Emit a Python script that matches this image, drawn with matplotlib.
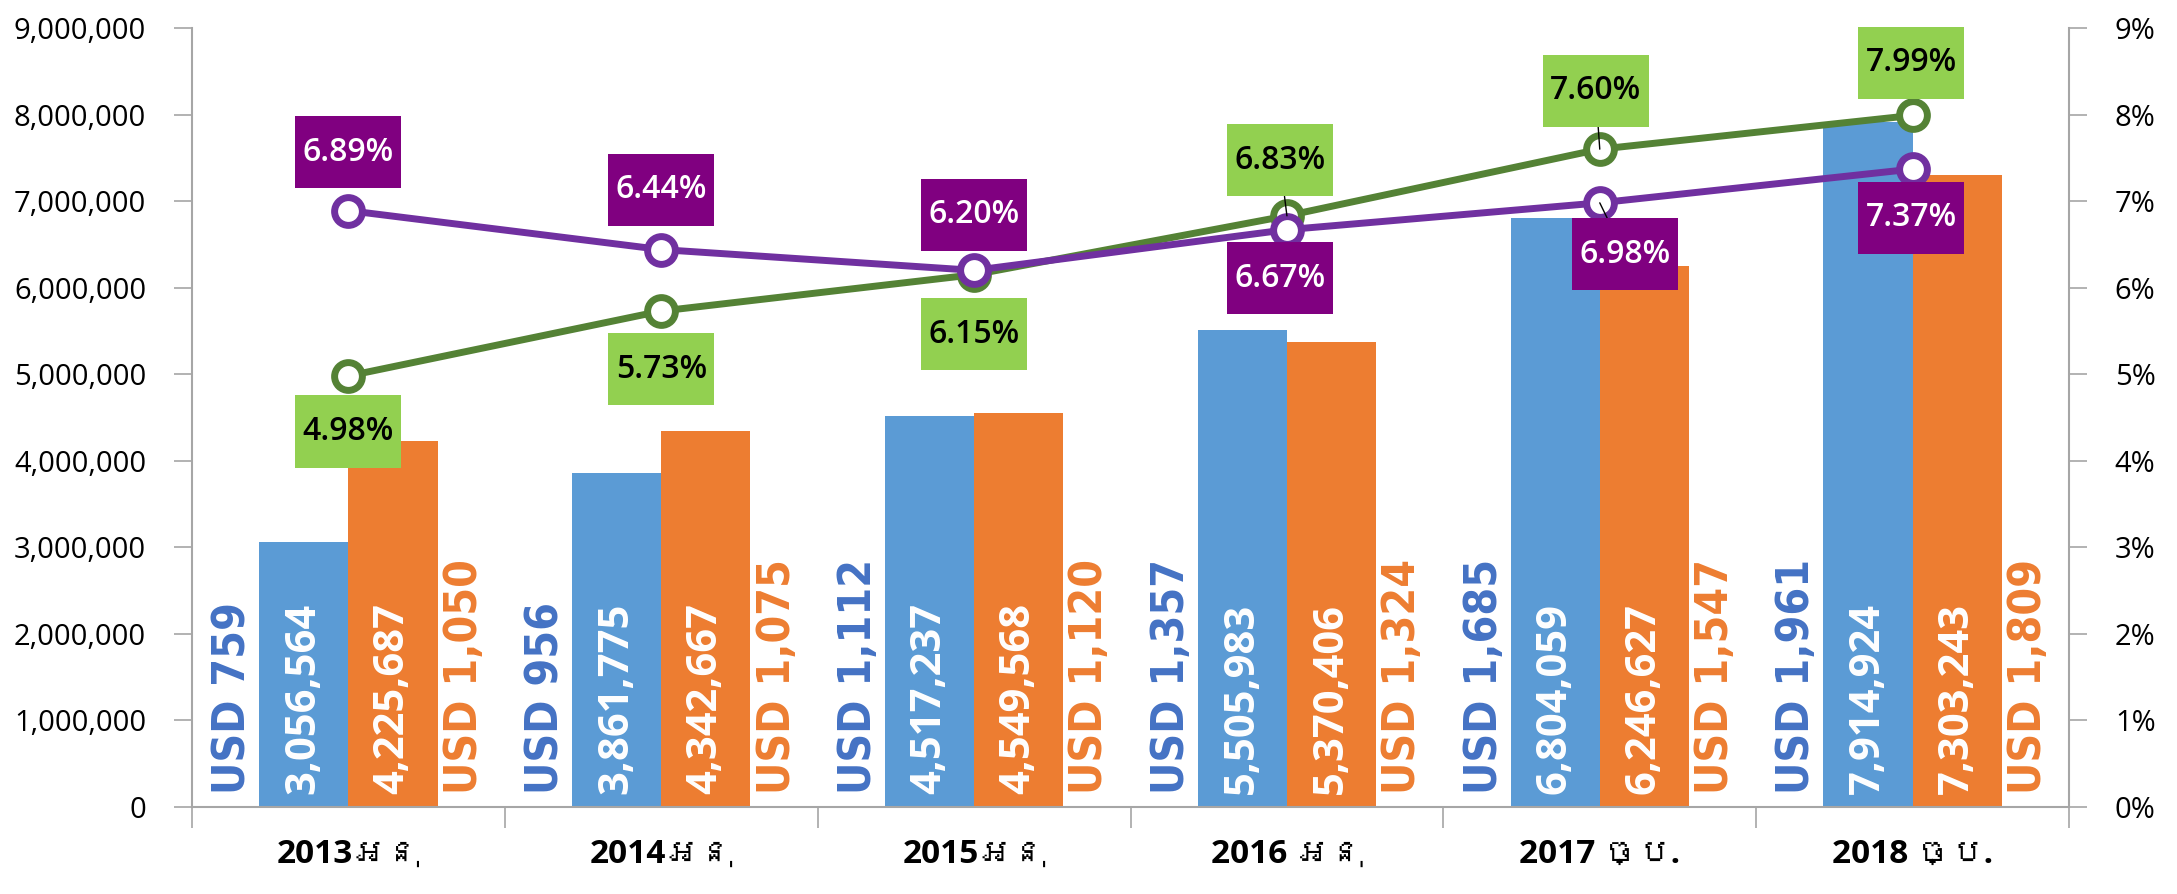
import numpy as np
import matplotlib
matplotlib.use('Agg')
import matplotlib.pyplot as plt
from matplotlib import font_manager
from matplotlib.ft2font import FT2Font
from matplotlib.path import Path

# data
years = ['2013អនុ', '2014អនុ', '2015អនុ', '2016 អនុ', '2017 ច្ប.', '2018 ច្ប.']
blue_vals = [3056564, 3861775, 4517237, 5505983, 6804059, 7914924]
orange_vals = [4225687, 4342667, 4549568, 5370406, 6246627, 7303243]
blue_usd = ['USD 759', 'USD 956', 'USD 1,112', 'USD 1,357', 'USD 1,685', 'USD 1,961']
orange_usd = ['USD 1,050', 'USD 1,075', 'USD 1,120', 'USD 1,324', 'USD 1,547', 'USD 1,809']
green_pct = [4.98, 5.73, 6.15, 6.83, 7.60, 7.99]
purple_pct = [6.89, 6.44, 6.20, 6.67, 6.98, 7.37]

# label offsets (points) for the percent boxes, and which get a leader line
green_off = [(0, -40), (0, -42), (0, -43), (-5, 40), (-3, 42), (-1, 38)]
purple_off = [(0, 42), (0, 43), (0, 40), (-5, -35), (18, -37), (-1, -35)]
green_lead = [False, False, False, True, True, False]
purple_lead = [False, False, False, False, True, False]

BLUE = '#5B9BD5'
ORANGE = '#ED7D31'
GREEN = '#548235'
PURPLE = '#7030A0'
GRAY = '#A6A6A6'


# find an installed family that has a given character (for the khmer tick labels)
def family_with(ch):
    for f in font_manager.fontManager.ttflist:
        try:
            if ord(ch) in FT2Font(f.fname).get_charmap():
                return f.name
        except Exception:
            pass
    return None


names = {f.name for f in font_manager.fontManager.ttflist}
khmer = family_with('ន')
xlab_family = ['Open Sans', 'DejaVu Sans'] + ([khmer] if khmer else [])
narrow = 'Liberation Sans Narrow' if 'Liberation Sans Narrow' in names else 'DejaVu Sans'


# fixed size label box, centred on the text
def label_box(x0, y0, width, height, mutation_size):
    cx, cy = x0 + width / 2, y0 + height / 2
    hw, hh = 1.66 * mutation_size, 1.13 * mutation_size
    return Path([(cx - hw, cy - hh), (cx + hw, cy - hh), (cx + hw, cy + hh),
                 (cx - hw, cy + hh), (cx - hw, cy - hh)], closed=True)


fig = plt.figure(figsize=(21.77, 8.94), dpi=100)
ax = fig.add_axes([0.0882, 0.0973, 0.8622, 0.8714])
x = np.arange(len(years))
w = 0.285

ax.bar(x - w / 2, blue_vals, w, color=BLUE, zorder=2)
ax.bar(x + w / 2, orange_vals, w, color=ORANGE, zorder=2)

base = 150000
for i in range(len(x)):
    ax.text(x[i] - w / 2, base, f'{blue_vals[i]:,}', rotation=90, ha='center', va='bottom',
            color='white', fontsize=30, fontweight='bold', family=['Open Sans', 'DejaVu Sans'], zorder=3)
    ax.text(x[i] + w / 2, base, f'{orange_vals[i]:,}', rotation=90, ha='center', va='bottom',
            color='white', fontsize=30, fontweight='bold', family=['Open Sans', 'DejaVu Sans'], zorder=3)
    ax.text(x[i] - 0.37, base, blue_usd[i], rotation=90, ha='center', va='bottom',
            color='#4472C4', fontsize=32, fontweight='bold', family=[narrow],
            fontstretch='condensed', zorder=3)
    ax.text(x[i] + 0.37, base, orange_usd[i], rotation=90, ha='center', va='bottom',
            color=ORANGE, fontsize=32, fontweight='bold', family=[narrow],
            fontstretch='condensed', zorder=3)

ax.set_xlim(-0.5, len(x) - 0.5)
ax.set_ylim(0, 9000000)
ax.set_yticks(np.arange(0, 9000001, 1000000))
ax.set_yticklabels([f'{int(v):,}' for v in np.arange(0, 9000001, 1000000)], fontsize=21,
                   family=['Open Sans', 'DejaVu Sans'])
ax.set_xticks(np.arange(-0.5, len(x), 1))
ax.set_xticklabels([])
ax.set_xticks(x, minor=True)
ax.set_xticklabels(years, minor=True, fontsize=24, fontweight='bold', family=xlab_family)
ax.tick_params(axis='x', which='major', length=15, color=GRAY, width=1.2)
ax.tick_params(axis='x', which='minor', length=0, pad=22)
ax.tick_params(axis='y', length=13, color=GRAY, width=1.2, pad=20)
for s in ['top', 'right']:
    ax.spines[s].set_visible(False)
for s in ['left', 'bottom']:
    ax.spines[s].set_color(GRAY)
    ax.spines[s].set_linewidth(1.5)

ax2 = ax.twinx()
ax2.set_ylim(0, 9)
ax2.set_yticks(np.arange(0, 10))
ax2.set_yticklabels([f'{v}%' for v in range(10)], fontsize=21, family=['Open Sans', 'DejaVu Sans'])
ax2.tick_params(axis='y', length=13, color=GRAY, width=1.2, pad=20)
for s in ['top', 'left', 'bottom']:
    ax2.spines[s].set_visible(False)
ax2.spines['right'].set_color(GRAY)
ax2.spines['right'].set_linewidth(1.5)

ax2.plot(x, green_pct, color=GREEN, lw=5, marker='o', ms=20, mfc='white', mec=GREEN, mew=5, zorder=4)
ax2.plot(x, purple_pct, color=PURPLE, lw=5, marker='o', ms=20, mfc='white', mec=PURPLE, mew=5, zorder=4)


def pct_label(val, xi, off, lead, fc, tc):
    arrow = dict(arrowstyle='-', color='black', lw=1, shrinkA=0, shrinkB=0) if lead else None
    ax2.annotate(f'{val:.2f}%', (xi, val), xytext=off, textcoords='offset points',
                 ha='center', va='center', fontsize=23, fontweight='semibold',
                 family=['Open Sans', 'DejaVu Sans'], color=tc,
                 bbox=dict(boxstyle=label_box, fc=fc, ec='none'), arrowprops=arrow, zorder=5)


for i in range(len(x)):
    pct_label(green_pct[i], x[i], green_off[i], green_lead[i], '#92D050', 'black')
    pct_label(purple_pct[i], x[i], purple_off[i], purple_lead[i], '#800080', 'white')

fig.savefig('out.png', dpi=100)
